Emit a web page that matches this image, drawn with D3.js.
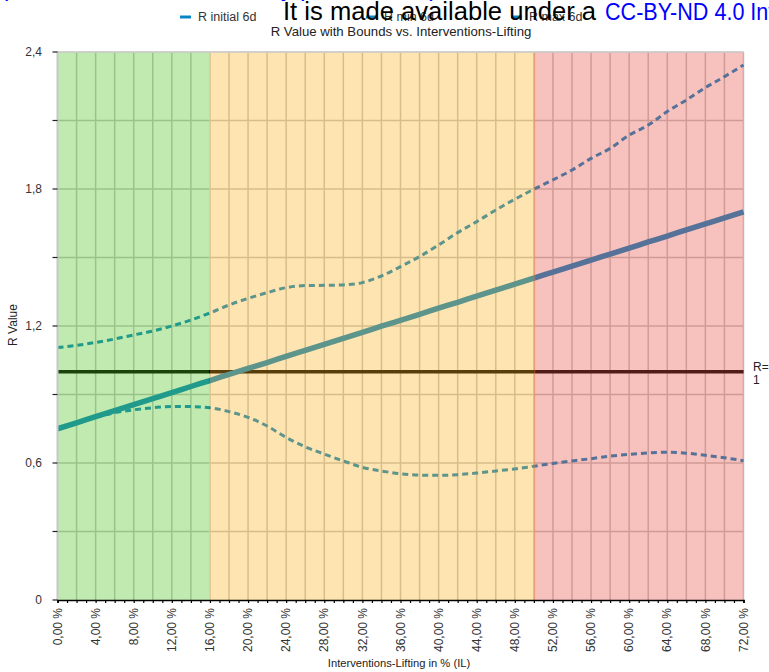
<!DOCTYPE html>
<html>
<head>
<meta charset="utf-8">
<script src="https://cdn.jsdelivr.net/npm/d3@7"></script>
<style>
  html, body { margin: 0; padding: 0; background: #fff; }
  svg { display: block; font-family: "Liberation Sans", Arial, Helvetica, sans-serif; }
</style>
</head>
<body>
<svg id="chart" width="769" height="672"></svg>
<script>
// ---- data ----
const xValues = [0,2,4,6,8,10,12,14,16,18,20,22,24,26,28,30,32,34,36,38,40,42,44,46,48,50,52,54,56,58,60,62,64,66,68,70,72];
const rInitial = [0.750,0.776,0.803,0.829,0.856,0.882,0.908,0.935,0.961,0.988,1.014,1.040,1.067,1.093,1.119,1.146,1.172,1.199,1.225,1.251,1.278,1.304,1.331,1.357,1.383,1.410,1.436,1.462,1.489,1.515,1.541,1.568,1.594,1.621,1.647,1.673,1.700];
const rMin = [0.750,0.776,0.800,0.820,0.833,0.842,0.848,0.847,0.842,0.825,0.800,0.762,0.712,0.671,0.639,0.609,0.581,0.565,0.553,0.547,0.546,0.549,0.556,0.565,0.574,0.586,0.598,0.609,0.619,0.630,0.638,0.644,0.647,0.643,0.634,0.623,0.610];
const rMax = [1.106,1.115,1.128,1.143,1.161,1.178,1.200,1.226,1.257,1.292,1.321,1.346,1.368,1.377,1.378,1.380,1.390,1.419,1.460,1.504,1.555,1.609,1.657,1.708,1.755,1.799,1.840,1.883,1.934,1.978,2.036,2.080,2.139,2.190,2.244,2.292,2.343];
const seriesNames = ["R initial 6d", "R min 6d", "R max 6d"];
const zoneStarts = [0, 16, 50];
const zoneEnds = [15.9, 50.15, 72];
const zoneColors = ["rgb(75,195,29)", "rgb(249,178,29)", "rgb(232,81,69)"];
const yTickValues = [0, 0.6, 1.2, 1.8, 2.4];
const yMinorTicks = [0, 0.3, 0.6, 0.9, 1.2, 1.5, 1.8, 2.1, 2.4];
const xLabelTicks = [0,4,8,12,16,20,24,28,32,36,40,44,48,52,56,60,64,68,72];
const referenceR = 1;

const titleText = "R Value with Bounds vs. Interventions-Lifting";
const xTitle = "Interventions-Lifting in % (IL)";
const yTitle = "R Value";

// ---- setup ----
const svg = d3.select("#chart");
const x = d3.scaleLinear().domain([0, 72]).range([57.5, 743.5]);
const y = d3.scaleLinear().domain([0, 2.4]).range([600, 52]);
const lineColor = "rgb(10,132,198)";
const fmtY = v => v === 0 ? "0" : d3.format(".1f")(v).replace(".", ",");
const fmtX = v => d3.format(".2f")(v).replace(".", ",") + " %";

// gridlines
const grid = svg.append("g");
grid.selectAll("line.h").data(yMinorTicks.filter(v => v > 0)).join("line")
  .attr("x1", x(0)).attr("x2", x(72))
  .attr("y1", d => y(d)).attr("y2", d => y(d))
  .attr("stroke", "#c4c4c4").attr("stroke-width", 1.5);
grid.selectAll("line.v").data(xValues.filter(v => v > 0)).join("line")
  .attr("x1", d => x(d)).attr("x2", d => x(d))
  .attr("y1", y(2.4)).attr("y2", y(0))
  .attr("stroke", "#c4c4c4").attr("stroke-width", 1.5);

// R = 1 line
svg.append("line")
  .attr("x1", x(0)).attr("x2", x(72))
  .attr("y1", y(referenceR)).attr("y2", y(referenceR))
  .attr("stroke", "#000").attr("stroke-width", 3.5);

// series
const pts = arr => arr.map((v, i) => [xValues[i], v]);
const line = d3.line().x(d => x(d[0])).y(d => y(d[1])).curve(d3.curveMonotoneX);
svg.append("path").attr("d", line(pts(rMin)))
  .attr("fill", "none").attr("stroke", lineColor).attr("stroke-width", 3)
  .attr("stroke-dasharray", "6,4");
svg.append("path").attr("d", line(pts(rMax)))
  .attr("fill", "none").attr("stroke", lineColor).attr("stroke-width", 3)
  .attr("stroke-dasharray", "6,4");
svg.append("path").attr("d", line(pts(rInitial)))
  .attr("fill", "none").attr("stroke", lineColor).attr("stroke-width", 5.5);

// zone overlays
svg.append("g").selectAll("rect").data(zoneStarts).join("rect")
  .attr("x", (d, i) => x(d))
  .attr("width", (d, i) => x(zoneEnds[i]) - x(d))
  .attr("y", y(2.4)).attr("height", y(0) - y(2.4))
  .attr("fill", (d, i) => zoneColors[i]).attr("fill-opacity", 0.35);

// top border
svg.append("line").attr("x1", x(0)).attr("x2", x(72)).attr("y1", y(2.4)).attr("y2", y(2.4))
  .attr("stroke", "#d0d0d0").attr("stroke-width", 1.5);

// left axis
svg.append("line").attr("x1", x(0)).attr("x2", x(0)).attr("y1", y(2.4)).attr("y2", y(0))
  .attr("stroke", "#c8c8c8").attr("stroke-width", 2);
svg.append("g").selectAll("line").data(yMinorTicks).join("line")
  .attr("x1", x(0) - 5).attr("x2", x(0))
  .attr("y1", d => y(d)).attr("y2", d => y(d))
  .attr("stroke", "#222").attr("stroke-width", 1.2);
svg.append("g").selectAll("text").data(yTickValues).join("text")
  .attr("x", 42).attr("y", d => y(d)).attr("dy", "0.35em")
  .attr("text-anchor", "end").attr("font-size", 12).attr("fill", "#333")
  .text(fmtY);

// bottom axis
const xAxis = d3.axisBottom(x).tickValues(d3.range(0, 73, 1)).tickSize(3).tickFormat("");
const xg = svg.append("g").attr("transform", `translate(0,${y(0)})`).call(xAxis);
xg.select(".domain").attr("stroke", "#000").attr("stroke-width", 1.6);
xg.selectAll(".tick line").attr("stroke", "#000").attr("stroke-width", 1.2);
svg.append("g").selectAll("text").data(xLabelTicks).join("text")
  .attr("transform", d => `translate(${x(d)},${y(0) + 8}) rotate(-90)`)
  .attr("text-anchor", "end").attr("dy", "0.35em")
  .attr("font-size", 12).attr("fill", "#333")
  .text(fmtX);

// titles
svg.append("text").attr("x", 401).attr("y", 36).attr("text-anchor", "middle")
  .attr("font-size", 13.2).attr("fill", "#222").text(titleText);
svg.append("text").attr("x", 399).attr("y", 667).attr("text-anchor", "middle")
  .attr("font-size", 11.2).attr("fill", "#222").text(xTitle);
svg.append("text").attr("transform", "translate(17,325) rotate(-90)").attr("text-anchor", "middle")
  .attr("font-size", 12).attr("fill", "#222").text(yTitle);

// R=1 label
svg.append("text").attr("x", 753).attr("y", 371).attr("font-size", 12).attr("fill", "#222").text("R=1");
svg.append("text").attr("x", 753).attr("y", 384).attr("font-size", 12).attr("fill", "#222").text("1");

// legend
const legendX = [180, 366, 511];
const lg = svg.append("g").selectAll("g").data(seriesNames).join("g")
  .attr("transform", (d, i) => `translate(${legendX[i]},17)`);
lg.append("line").attr("x1", 0).attr("x2", 11).attr("y1", 0).attr("y2", 0)
  .attr("stroke", lineColor).attr("stroke-width", 3);
lg.append("text").attr("x", 18).attr("y", 4).attr("font-size", 12.5).attr("fill", "#333").text(d => d);

// watermark overlay (preprint stamp)
svg.append("text").attr("x", 0).attr("y", -4).attr("font-size", 25).attr("fill", "#0000ff")
  .text("(which was not certified by peer review) is the author/funder, who has granted medRxiv a license");
svg.append("text").attr("x", 283).attr("y", 20).attr("font-size", 25.6).attr("fill", "#000")
  .text("It is made available under a");
const blue = svg.append("text").attr("x", 605).attr("y", 20).attr("font-size", 24.5).attr("fill", "#0000ff")
  .text("CC-BY-ND 4.0 International license");
const bl = blue.node().getComputedTextLength();
blue.attr("textLength", bl * 0.88).attr("lengthAdjust", "spacingAndGlyphs");
</script>
</body>
</html>
